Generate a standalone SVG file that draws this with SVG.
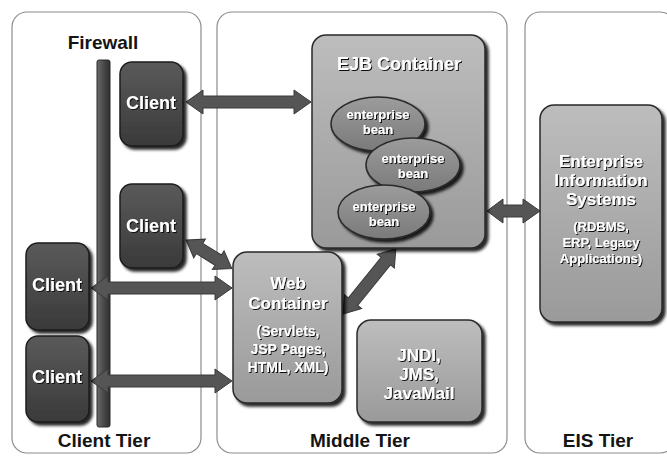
<svg xmlns="http://www.w3.org/2000/svg" width="667" height="457" viewBox="0 0 667 457">
  <defs>
    <linearGradient id="gLight" x1="0" y1="0" x2="0" y2="1">
      <stop offset="0" stop-color="#bdbdbd"/>
      <stop offset="1" stop-color="#9a9a9a"/>
    </linearGradient>
    <linearGradient id="gDark" x1="0" y1="0" x2="0" y2="1">
      <stop offset="0" stop-color="#5a5a5a"/>
      <stop offset="1" stop-color="#3a3a3a"/>
    </linearGradient>
    <linearGradient id="gBean" x1="0" y1="0" x2="0" y2="1">
      <stop offset="0" stop-color="#9c9c9c"/>
      <stop offset="1" stop-color="#7a7a7a"/>
    </linearGradient>
    <linearGradient id="gBar" x1="0" y1="0" x2="1" y2="0">
      <stop offset="0" stop-color="#6a6a6a"/>
      <stop offset="0.5" stop-color="#4a4a4a"/>
      <stop offset="1" stop-color="#2e2e2e"/>
    </linearGradient>
    <filter id="shadow" x="-20%" y="-20%" width="150%" height="150%">
      <feDropShadow dx="3" dy="3" stdDeviation="1.8" flood-color="#000" flood-opacity="0.85"/>
    </filter>
    <filter id="tshadow" x="-10%" y="-30%" width="130%" height="170%">
      <feDropShadow dx="1" dy="1" stdDeviation="0.6" flood-color="#111" flood-opacity="1"/>
    </filter>
    <style>
      .panel { fill: #ffffff; stroke: #8c8c8c; stroke-width: 1.2; }
      .light { fill: url(#gLight); stroke: #2a2a2a; stroke-width: 1.5; filter: url(#shadow); }
      .dark { fill: url(#gDark); stroke: #1c1c1c; stroke-width: 1.5; filter: url(#shadow); }
      .bean { fill: url(#gBean); stroke: #2a2a2a; stroke-width: 1.5; filter: url(#shadow); }
      .arrow { fill: #555555; stroke: #3a3a3a; stroke-width: 1; }
      text { font-family: "Liberation Sans", Arial, Helvetica, sans-serif; font-weight: bold; text-anchor: middle; }
      .tier { font-size: 19px; fill: #141414; }
      .w { fill: #ffffff; filter: url(#tshadow); }
      .f18 { font-size: 18px; }
      .f17 { font-size: 17px; }
      .f15 { font-size: 15px; }
      .f14 { font-size: 14px; }
      .f13 { font-size: 13px; }
    </style>
  </defs>

  <!-- tier panels -->
  <g id="client-tier">
    <rect class="panel" x="12" y="12" width="189" height="441" rx="15"/>
    <text class="tier" x="104" y="447">Client Tier</text>
  </g>
  <g id="middle-tier">
    <rect class="panel" x="217" y="12" width="290" height="441" rx="15"/>
    <text class="tier" x="360" y="447">Middle Tier</text>
  </g>
  <g id="eis-tier">
    <rect class="panel" x="525" y="12" width="150" height="441" rx="15"/>
    <text class="tier" x="598" y="447">EIS Tier</text>
  </g>

  <!-- firewall -->
  <g id="firewall">
    <text class="tier" x="103" y="49">Firewall</text>
    <rect x="97" y="60" width="13" height="367" rx="2" fill="url(#gBar)" stroke="#2a2a2a" stroke-width="1"/>
  </g>

  <!-- connectors: double-headed block arrows -->
  <g id="connectors">
    <!-- client 1 <-> EJB container -->
    <path class="arrow" d="M186,102 L203,90 L203,96 L294,96 L294,90 L311,102 L294,114 L294,108 L203,108 L203,114 Z"/>
    <!-- client 2 <-> web container -->
    <path class="arrow" transform="translate(186,240) rotate(32)" d="M0,0 L16,-11 L16,-6 L38,-6 L38,-11 L54,0 L38,11 L38,6 L16,6 L16,11 Z"/>
    <!-- client 3 <-> web container -->
    <path class="arrow" d="M91,288 L108,276 L108,282 L215,282 L215,276 L232,288 L215,300 L215,294 L108,294 L108,300 Z"/>
    <!-- client 4 <-> web container -->
    <path class="arrow" d="M91,381 L108,369 L108,375 L215,375 L215,369 L232,381 L215,393 L215,387 L108,387 L108,393 Z"/>
    <!-- web container <-> EJB container -->
    <path class="arrow" transform="translate(343,314) rotate(-51)" d="M0,0 L16,-11 L16,-6 L68,-6 L68,-11 L84,0 L68,11 L68,6 L16,6 L16,11 Z"/>
    <!-- EJB container <-> EIS -->
    <path class="arrow" d="M487,211 L503,199 L503,205 L523,205 L523,199 L540,211 L523,223 L523,217 L503,217 L503,223 Z"/>
  </g>

  <!-- clients -->
  <g id="client-1">
    <rect class="dark" x="120" y="62" width="63" height="84" rx="12"/>
    <text class="w f18" x="151" y="109">Client</text>
  </g>
  <g id="client-2">
    <rect class="dark" x="120" y="184" width="63" height="84" rx="12"/>
    <text class="w f18" x="151" y="232">Client</text>
  </g>
  <g id="client-3">
    <rect class="dark" x="26" y="243" width="63" height="87" rx="12"/>
    <text class="w f18" x="57" y="291">Client</text>
  </g>
  <g id="client-4">
    <rect class="dark" x="26" y="336" width="63" height="86" rx="12"/>
    <text class="w f18" x="57" y="383">Client</text>
  </g>

  <!-- EJB container with enterprise beans -->
  <g id="ejb-container">
    <rect class="light" x="312" y="35" width="173" height="213" rx="14"/>
    <text class="w f18" x="399" y="70">EJB Container</text>
  </g>
  <g id="bean-1">
    <ellipse class="bean" cx="378" cy="124" rx="47" ry="27"/>
    <text class="w f13" x="378" y="119">enterprise</text>
    <text class="w f13" x="378" y="134">bean</text>
  </g>
  <g id="bean-2">
    <ellipse class="bean" cx="413" cy="165" rx="47" ry="27"/>
    <text class="w f13" x="413" y="163">enterprise</text>
    <text class="w f13" x="413" y="178">bean</text>
  </g>
  <g id="bean-3">
    <ellipse class="bean" cx="384" cy="212" rx="46" ry="27"/>
    <text class="w f13" x="384" y="211">enterprise</text>
    <text class="w f13" x="384" y="226">bean</text>
  </g>

  <!-- web container -->
  <g id="web-container">
    <rect class="light" x="233" y="252" width="109" height="151" rx="14"/>
    <text class="w f17" x="288" y="289">Web</text>
    <text class="w f17" x="288" y="309">Container</text>
    <text class="w f14" x="288" y="336">(Servlets,</text>
    <text class="w f14" x="288" y="354">JSP Pages,</text>
    <text class="w f14" x="288" y="372">HTML, XML)</text>
  </g>

  <!-- naming / messaging services -->
  <g id="jndi-jms-javamail">
    <rect class="light" x="357" y="320" width="125" height="102" rx="14"/>
    <text class="w f17" x="419" y="361">JNDI,</text>
    <text class="w f17" x="419" y="380">JMS,</text>
    <text class="w f17" x="419" y="399">JavaMail</text>
  </g>

  <!-- enterprise information systems -->
  <g id="eis">
    <rect class="light" x="540" y="105" width="122" height="217" rx="14"/>
    <text class="w f17" x="601" y="167">Enterprise</text>
    <text class="w f17" x="601" y="186">Information</text>
    <text class="w f17" x="601" y="205">Systems</text>
    <text class="w f13" x="601" y="231">(RDBMS,</text>
    <text class="w f13" x="601" y="247">ERP, Legacy</text>
    <text class="w f13" x="601" y="263">Applications)</text>
  </g>
</svg>
